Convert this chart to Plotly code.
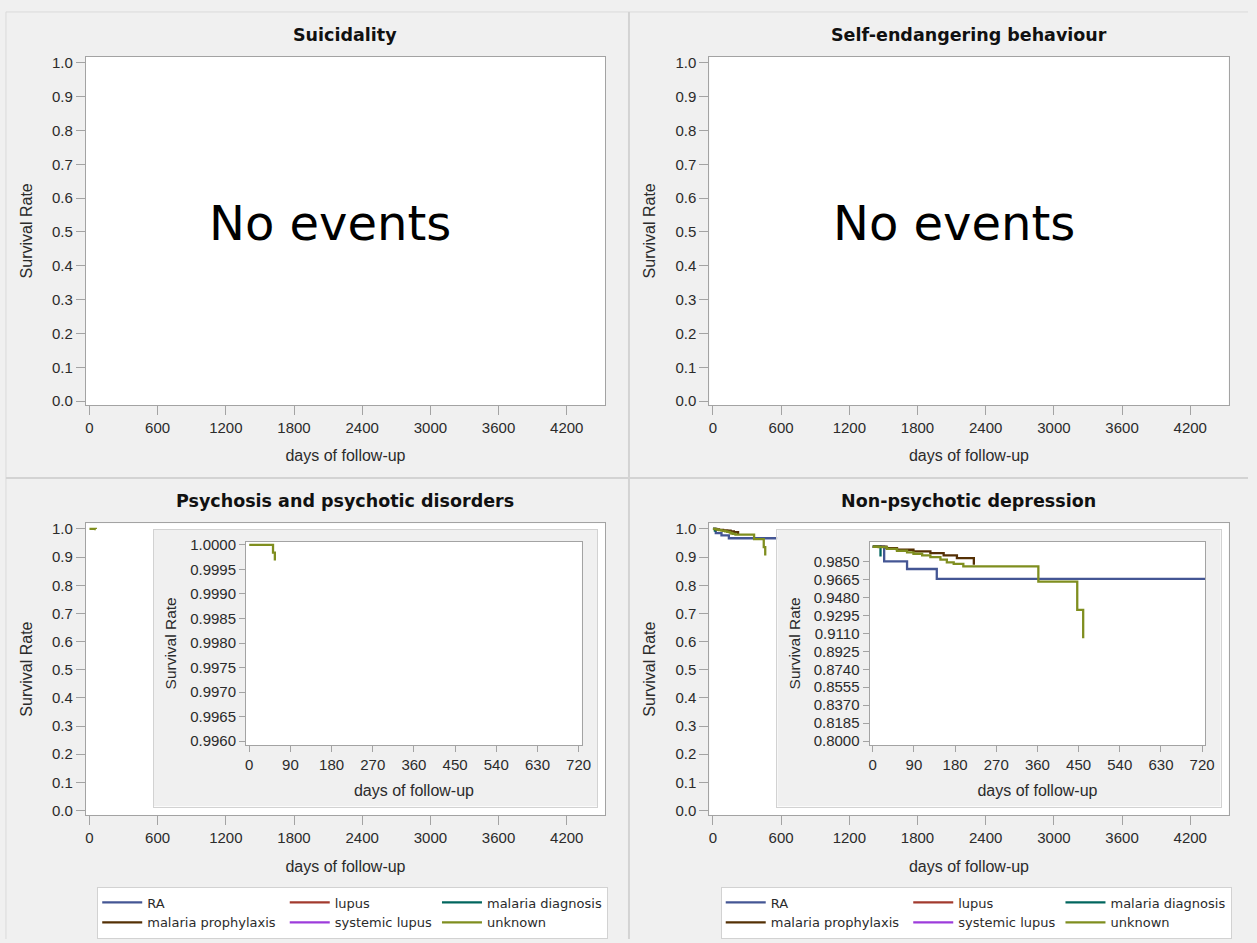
import plotly.graph_objects as go

W, H = 1257, 943

# ---------------- data ----------------
groups = ["RA", "lupus", "malaria diagnosis", "malaria prophylaxis", "systemic lupus", "unknown"]
group_colors = ["#445694", "#A23A2E", "#01665E", "#543005", "#9D3CDB", "#7F8E1F"]
legend_names = ["RA", "lupus", "malaria diagnosis", "malaria prophylaxis\u00a0", "systemic lupus", "unknown"]
legend_columns = ["c1", "c2", "c3", "c1", "c2", "c3"]

main_xticks = [0, 600, 1200, 1800, 2400, 3000, 3600, 4200]
main_yticks = [0.0, 0.1, 0.2, 0.3, 0.4, 0.5, 0.6, 0.7, 0.8, 0.9, 1.0]
inset_xticks = [0, 90, 180, 270, 360, 450, 540, 630, 720]
psy_inset_yticks = [0.9960, 0.9965, 0.9970, 0.9975, 0.9980, 0.9985, 0.9990, 0.9995, 1.0000]
dep_inset_yticks = [0.8000, 0.8185, 0.8370, 0.8555, 0.8740, 0.8925, 0.9110, 0.9295, 0.9480, 0.9665, 0.9850]

panel_titles = ["Suicidality", "Self-endangering behaviour",
                "Psychosis and psychotic disorders", "Non-psychotic depression"]

# Psychosis and psychotic disorders (only group with events: unknown)
psy_days = {"unknown": [0, 52, 56]}
psy_surv = {"unknown": [1.0, 0.99984, 0.99968]}

# Non-psychotic depression
dep_days = {
    "RA": [0, 25, 75, 140, 728],
    "malaria diagnosis": [0, 17],
    "malaria prophylaxis": [0, 30, 53, 89, 126, 155, 184, 221],
    "unknown": [0, 13, 31, 53, 75, 89, 108, 126, 148, 162, 177, 198, 362, 447, 460],
}
dep_surv = {
    "RA": [1.0, 0.9849, 0.9771, 0.9670, 0.9670],
    "malaria diagnosis": [1.0, 0.9900],
    "malaria prophylaxis": [1.0, 0.9985, 0.9969, 0.9952, 0.9935, 0.9911, 0.9884, 0.9815],
    "unknown": [1.0, 0.9997, 0.9979, 0.9959, 0.9942, 0.9928, 0.9911, 0.9894, 0.9867,
                0.9839, 0.9823, 0.9798, 0.9641, 0.9351, 0.9060],
}

# ---------------- layout geometry (pixels) ----------------
def dx(a, b):
    return [a / W, b / W]

def dy(top, bottom):
    return [1 - bottom / H, 1 - top / H]

SHIFT = 628.5
main_x_left = (85.5, 609.0)
main_y_top = (52.0, 404.0)
main_y_bot = (523.3, 817.7)
box_x = (154.0, 601.0)
box_y = (530.0, 809.3)
ins_x = (247.0, 585.5)
ins_y = (541.7, 747.3)

FRAME = "#a3a3a3"
TICKFONT = dict(family="Liberation Sans, Arial, sans-serif", size=15, color="#2b2b2b")
TITLEFONT = dict(family="Liberation Sans, Arial, sans-serif", size=16, color="#2b2b2b")
INSET_TITLEFONT = dict(family="Liberation Sans, Arial, sans-serif", size=15.5, color="#2b2b2b")


def frame_axis(domain, rng, tickvals, fmt, ticklen, anchor, title, standoff, tfont):
    return dict(domain=domain, range=rng, tickmode="array", tickvals=tickvals,
                tickformat=fmt, ticks="outside", ticklen=ticklen, tickcolor=FRAME,
                showline=True, linecolor=FRAME, linewidth=1, mirror=True,
                showgrid=False, zeroline=False, tickfont=TICKFONT, anchor=anchor,
                title=dict(text=title, font=tfont, standoff=standoff), fixedrange=True)


def box_axis(domain, anchor):
    return dict(domain=domain, range=[0, 1], showticklabels=False, ticks="",
                showline=True, linecolor="#d2d2d2", linewidth=1, mirror=True,
                showgrid=False, zeroline=False, anchor=anchor, fixedrange=True)


MAIN_XR = [-32, 4538]
TOP_YR = [-0.0117, 1.0184]
BOT_YR = [-0.0155, 1.020]
INS_XR = [-7, 727]
PSY_INS_YR = [0.995919, 1.0000666]
DEP_INS_YR = [0.79592, 1.00537]

layout = dict(width=W, height=H, margin=dict(l=0, r=0, t=0, b=0),
              paper_bgcolor="#f0f0f0", plot_bgcolor="white",
              font=dict(family="Liberation Sans, Arial, sans-serif", color="#2b2b2b"))

xdom_l = dx(*main_x_left)
xdom_r = dx(main_x_left[0] + SHIFT, main_x_left[1] + SHIFT)

# main axes 1-4
layout["xaxis"] = frame_axis(xdom_l, MAIN_XR, main_xticks, "d", 9, "y", "days of follow-up", 14, TITLEFONT)
layout["yaxis"] = frame_axis(dy(*main_y_top), TOP_YR, main_yticks, ".1f", 9, "x", "Survival Rate", 15, TITLEFONT)
layout["xaxis2"] = frame_axis(xdom_r, MAIN_XR, main_xticks, "d", 9, "y2", "days of follow-up", 14, TITLEFONT)
layout["yaxis2"] = frame_axis(dy(*main_y_top), TOP_YR, main_yticks, ".1f", 9, "x2", "Survival Rate", 15, TITLEFONT)
layout["xaxis3"] = frame_axis(xdom_l, MAIN_XR, main_xticks, "d", 9, "y3", "days of follow-up", 15, TITLEFONT)
layout["yaxis3"] = frame_axis(dy(*main_y_bot), BOT_YR, main_yticks, ".1f", 9, "x3", "Survival Rate", 15, TITLEFONT)
layout["xaxis4"] = frame_axis(xdom_r, MAIN_XR, main_xticks, "d", 9, "y4", "days of follow-up", 15, TITLEFONT)
layout["yaxis4"] = frame_axis(dy(*main_y_bot), BOT_YR, main_yticks, ".1f", 9, "x4", "Survival Rate", 15, TITLEFONT)

# inset boxes 5-6
layout["xaxis5"] = box_axis(dx(*box_x), "y5")
layout["yaxis5"] = box_axis(dy(*box_y), "x5")
layout["xaxis6"] = box_axis(dx(box_x[0] + SHIFT, box_x[1] + SHIFT), "y6")
layout["yaxis6"] = box_axis(dy(*box_y), "x6")

# inset plots 7-8
layout["xaxis7"] = frame_axis(dx(*ins_x), INS_XR, inset_xticks, "d", 6, "y7", "days of follow-up", 12, TITLEFONT)
layout["yaxis7"] = frame_axis(dy(*ins_y), PSY_INS_YR, psy_inset_yticks, ".4f", 6, "x7", "Survival Rate", 9, INSET_TITLEFONT)
layout["xaxis8"] = frame_axis(dx(ins_x[0] + SHIFT, ins_x[1] + SHIFT), INS_XR, inset_xticks, "d", 6, "y8", "days of follow-up", 12, TITLEFONT)
layout["yaxis8"] = frame_axis(dy(*ins_y), DEP_INS_YR, dep_inset_yticks, ".4f", 6, "x8", "Survival Rate", 9, INSET_TITLEFONT)

LEGFONT = dict(family="DejaVu Sans, Verdana, sans-serif", size=13, color="#2b2b2b")
leg_common = dict(orientation="h", traceorder="grouped", font=LEGFONT, bgcolor="white",
                  bordercolor="#d2d2d2", borderwidth=1, xanchor="left", yanchor="top",
                  itemwidth=40, y=1 - 890.0 / H)
layout["legend"] = dict(leg_common, x=97 / W)
layout["legend2"] = dict(leg_common, x=(97 + SHIFT) / W)

# ---------------- shapes ----------------
LINE = "#d3d3d3"
shapes = [
    dict(type="rect", xref="x5", yref="y5", x0=0, x1=1, y0=0, y1=1,
         fillcolor="#f0f0f0", line=dict(width=0), layer="below"),
    dict(type="rect", xref="x6", yref="y6", x0=0, x1=1, y0=0, y1=1,
         fillcolor="#f0f0f0", line=dict(width=0), layer="below"),
    dict(type="line", xref="paper", yref="paper", x0=5 / W, x1=1, y0=1 - 7 / H, y1=1 - 7 / H,
         line=dict(color="#dadada", width=1), layer="below"),
    dict(type="line", xref="paper", yref="paper", x0=5 / W, x1=5 / W, y0=0, y1=1 - 7 / H,
         line=dict(color="#dadada", width=1), layer="below"),
    dict(type="line", xref="paper", yref="paper", x0=633 / W, x1=633 / W, y0=0, y1=1 - 7 / H,
         line=dict(color=LINE, width=2), layer="below"),
    dict(type="line", xref="paper", yref="paper", x0=5 / W, x1=1, y0=1 - 477.5 / H, y1=1 - 477.5 / H,
         line=dict(color=LINE, width=2), layer="below"),
]
layout["shapes"] = shapes

# ---------------- annotations ----------------
TFONT = dict(family="DejaVu Sans, Verdana, sans-serif", size=17.5, color="#111111")
ann = []
title_y = [30.7, 30.7, 500.5, 500.5]
title_x = [sum(main_x_left) / 2, sum(main_x_left) / 2 + SHIFT] * 2
for t, xx, yy in zip(panel_titles, title_x, title_y):
    ann.append(dict(text="<b>%s</b>" % t, x=xx / W, y=1 - yy / H, xref="paper", yref="paper",
                    showarrow=False, xanchor="center", yanchor="middle", font=TFONT))
for xr, yr in (("x", "y"), ("x2", "y2")):
    ann.append(dict(text="No events", x=2120, y=0.525, xref=xr, yref=yr, showarrow=False,
                    xanchor="center", yanchor="middle",
                    font=dict(family="DejaVu Sans, Verdana, sans-serif", size=48, color="#000000")))
layout["annotations"] = ann

fig = go.Figure(layout=layout)

LW = 2.3

def series(d, g):
    # groups without events only get a legend entry
    return d.get(g, [None])

# bottom-left main plot + legend
for g, c, nm, col in zip(groups, group_colors, legend_names, legend_columns):
    fig.add_trace(go.Scatter(x=series(psy_days, g), y=series(psy_surv, g), mode="lines",
                             line=dict(color=c, width=LW, shape="hv"), name=nm,
                             legendgroup=col, legend="legend", xaxis="x3", yaxis="y3",
                             hoverinfo="skip"))
# bottom-right main plot + legend
for g, c, nm, col in zip(groups, group_colors, legend_names, legend_columns):
    fig.add_trace(go.Scatter(x=series(dep_days, g), y=series(dep_surv, g), mode="lines",
                             line=dict(color=c, width=LW, shape="hv"), name=nm,
                             legendgroup=col, legend="legend2", xaxis="x4", yaxis="y4",
                             hoverinfo="skip"))
# insets
for g, c in zip(groups, group_colors):
    if g in psy_days:
        fig.add_trace(go.Scatter(x=psy_days[g], y=psy_surv[g], mode="lines",
                                 line=dict(color=c, width=LW, shape="hv"), showlegend=False,
                                 xaxis="x7", yaxis="y7", hoverinfo="skip"))
for g, c in zip(groups, group_colors):
    if g in dep_days:
        fig.add_trace(go.Scatter(x=dep_days[g], y=dep_surv[g], mode="lines",
                                 line=dict(color=c, width=LW, shape="hv"), showlegend=False,
                                 xaxis="x8", yaxis="y8", hoverinfo="skip"))

fig.write_html("out.html", config={"displayModeBar": False},
               post_script="document.body.style.margin='0';document.body.style.overflow='hidden';")
